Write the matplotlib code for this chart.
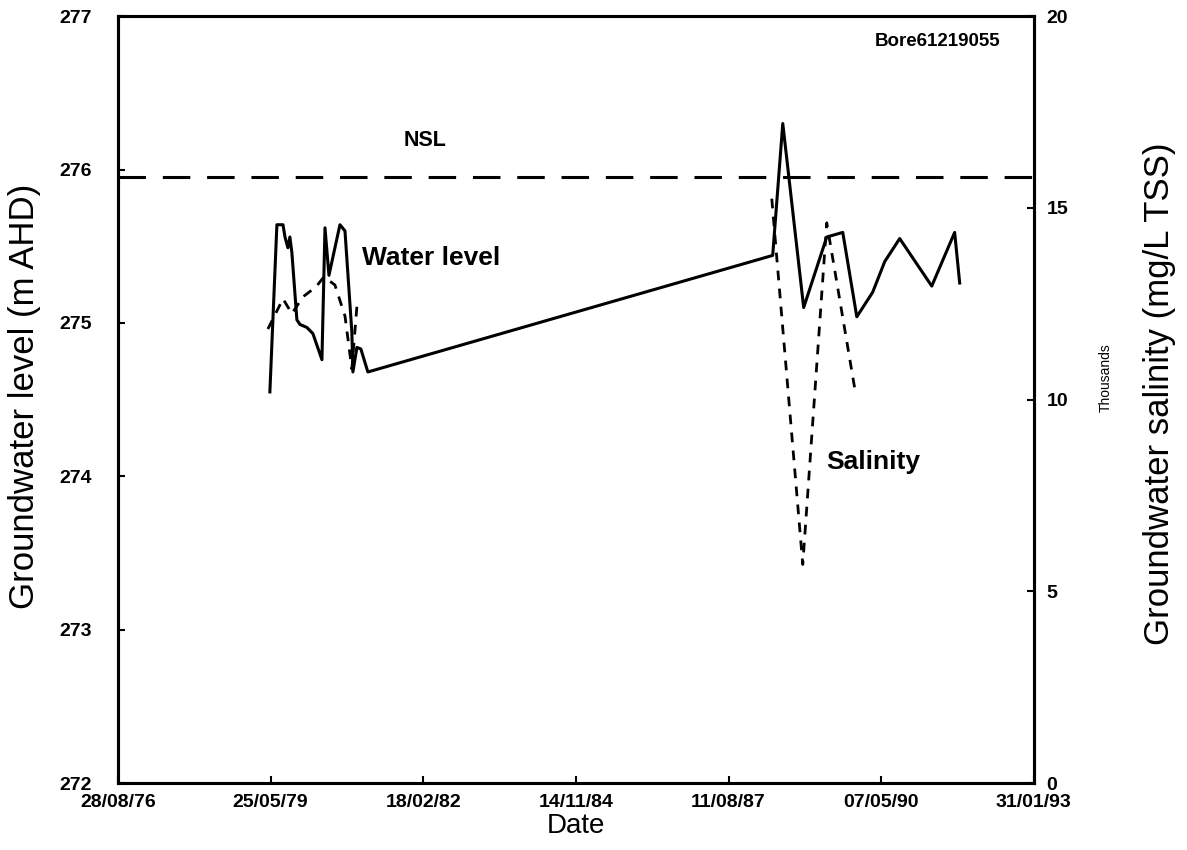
import numpy as np
import pandas as pd
import matplotlib
matplotlib.use("Agg")
import matplotlib.pyplot as plt

plt.rcParams['font.family'] = ['Liberation Sans', 'DejaVu Sans']

# water level (m AHD)
level_dates = ['1979-05-20', '1979-07-05', '1979-08-14', '1979-08-27', '1979-09-15',
               '1979-09-28', '1979-10-11', '1979-11-13', '1979-12-03', '1980-01-18',
               '1980-02-26', '1980-04-25', '1980-05-15', '1980-06-10', '1980-08-21',
               '1980-09-23', '1980-11-07', '1980-11-14', '1980-12-10', '1981-01-05',
               '1981-02-20', '1988-05-26', '1988-07-31', '1988-12-15', '1989-05-15',
               '1989-08-28', '1989-11-28', '1990-03-12', '1990-05-30', '1990-09-05',
               '1991-04-03', '1991-08-31', '1991-10-03']
level_vals = [274.55, 275.64, 275.64, 275.56, 275.49,
              275.56, 275.46, 275.02, 274.99, 274.97,
              274.93, 274.76, 275.62, 275.31, 275.64,
              275.60, 274.94, 274.68, 274.84, 274.83,
              274.68, 275.44, 276.30, 275.10, 275.56,
              275.59, 275.04, 275.20, 275.40, 275.55,
              275.24, 275.59, 275.26]

# salinity (mg/L TSS), no readings between the two clusters
sal_dates = ['1979-05-07', '1979-08-14', '1979-10-11', '1979-12-23', '1980-03-17',
             '1980-05-08', '1980-07-19', '1980-09-23', '1980-11-07', '1980-12-10',
             '1984-01-01',
             '1988-05-20', '1988-12-09', '1989-05-15', '1989-11-14']
sal_vals = [11840, 12630, 12240, 12680, 12940,
            13200, 12990, 12180, 10800, 12420,
            np.nan,
            15240, 5700, 14610, 10300]

nsl = 275.95

tick_start = pd.Timestamp('1976-08-28')
tick_dates = [tick_start + pd.Timedelta(days=1000 * i) for i in range(7)]
tick_labels = [d.strftime('%d/%m/%y') for d in tick_dates]

lv_x = pd.to_datetime(level_dates)
sal_x = pd.to_datetime(sal_dates)

fig = plt.figure(figsize=(11.87, 8.5), dpi=100)
ax = fig.add_axes([0.0994, 0.0788, 0.7716, 0.9022])
ax2 = ax.twinx()

ax.plot(lv_x, level_vals, color='black', lw=2.2)
ax.axhline(nsl, color='black', lw=2.2, dashes=(9, 5.5))
ax2.plot(sal_x, np.array(sal_vals) / 1000, color='black', lw=2.0, dashes=(3.5, 3))

ax.set_xlim(tick_dates[0], tick_dates[-1])
ax.set_ylim(272, 277)
ax2.set_ylim(0, 20)
ax.set_xticks(tick_dates)
ax.set_xticklabels(tick_labels)
ax.set_yticks(range(272, 278))
ax2.set_yticks(range(0, 21, 5))

for a in (ax, ax2):
    for s in a.spines.values():
        s.set_linewidth(2.2)
    a.tick_params(direction='in', length=5, width=1.5, labelsize=14)
    for lab in a.get_xticklabels() + a.get_yticklabels():
        lab.set_fontweight('bold')
ax.tick_params(axis='y', pad=19)
ax2.tick_params(axis='y', pad=9)
ax.tick_params(axis='x', pad=8)

ax.set_xlabel('Date', fontsize=20, labelpad=1)
fig.text(25 / 1187, 1 - 396 / 850, 'Groundwater level (m AHD)', rotation=90,
         fontsize=25, ha='center', va='center')
fig.text(1160 / 1187, 1 - 394 / 850, 'Groundwater salinity (mg/L TSS)', rotation=90,
         fontsize=25, ha='center', va='center')
fig.text(1106 / 1187, 1 - 378 / 850, 'Thousands', rotation=90, fontsize=10,
         ha='center', va='center')

ax.text(0.963, 0.978, 'Bore61219055', transform=ax.transAxes, fontsize=13.5,
        fontweight='bold', ha='right', va='top')
ax.text(pd.Timestamp('1981-10-14'), 276.19, 'NSL', fontsize=15.5, fontweight='bold',
        va='center')
ax.text(pd.Timestamp('1981-01-12'), 275.42, 'Water level', fontsize=19,
        fontweight='bold', va='center')
ax2.text(pd.Timestamp('1989-05-09'), 8.37, 'Salinity', fontsize=19,
         fontweight='bold', va='center')

fig.savefig('out.png', dpi=100)
